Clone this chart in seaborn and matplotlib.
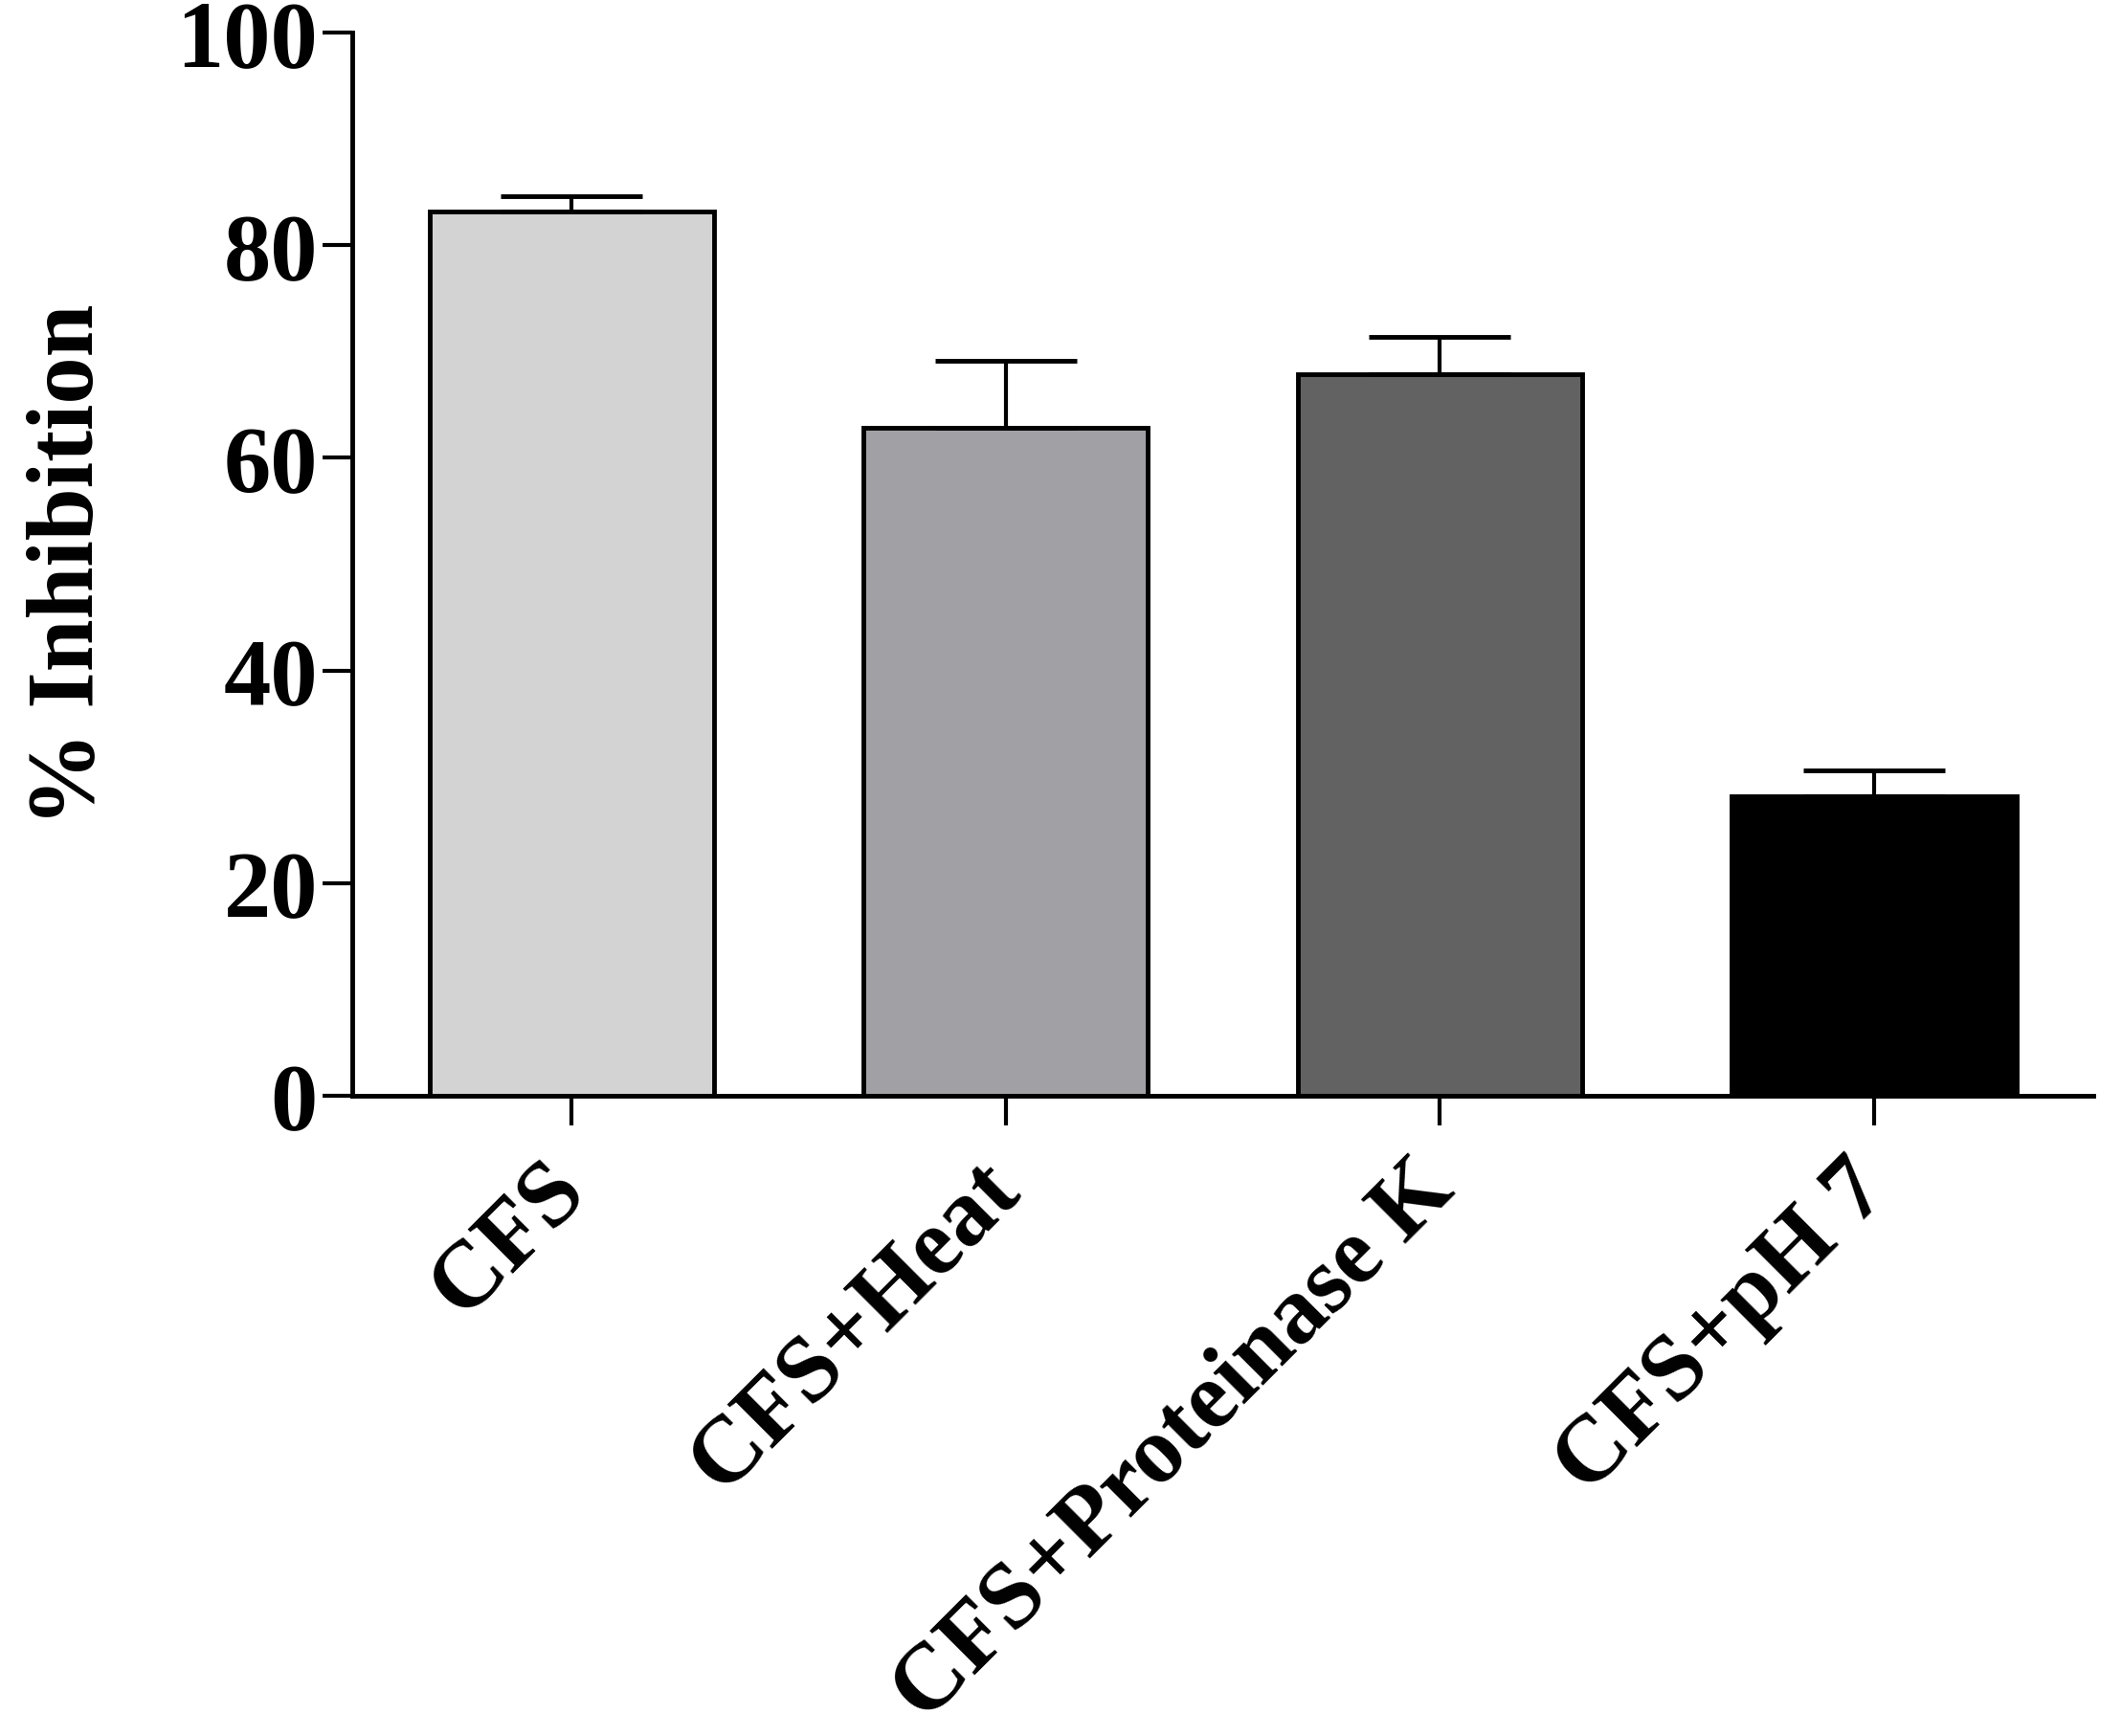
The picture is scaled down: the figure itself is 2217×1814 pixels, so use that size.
import matplotlib
matplotlib.use("Agg")
import matplotlib.pyplot as plt
from matplotlib import font_manager
import seaborn as sns
import pandas as pd
import numpy as np

categories = ["CFS", "CFS+Heat", "CFS+Proteinase K", "CFS+pH 7"]
inhibition = [83.2, 62.8, 67.9, 28.2]
error_up = [1.4, 6.3, 3.5, 2.4]
bar_colors = ["#d3d3d3", "#a1a1a5", "#626262", "#000000"]
y_ticks = [0, 20, 40, 60, 80, 100]

sns.set_style("ticks")
serif_names = [f.name for f in font_manager.fontManager.ttflist]
family = "Liberation Serif" if "Liberation Serif" in serif_names else "serif"
plt.rcParams["font.family"] = [family, "DejaVu Serif"]
plt.rcParams["font.serif"] = ["Liberation Serif", "Times New Roman", "DejaVu Serif"]
plt.rcParams["font.weight"] = "bold"
for key in ["text.color", "axes.labelcolor", "xtick.color", "ytick.color", "axes.edgecolor"]:
    plt.rcParams[key] = "black"

df = pd.DataFrame({"group": categories, "value": inhibition})

fig = plt.figure(figsize=(22.17, 18.15), dpi=100)
ax = fig.add_axes([0.166, 0.3686, 0.8205, 0.6121])

sns.barplot(data=df, x="group", y="value", hue="group", palette=bar_colors,
            order=categories, hue_order=categories, legend=False,
            width=0.655, edgecolor="black", linewidth=3.5, saturation=1,
            errorbar=None, ax=ax)

xpos = np.arange(len(categories))
ax.errorbar(xpos, inhibition, yerr=[np.zeros(len(error_up)), error_up],
            fmt="none", ecolor="black", elinewidth=3, capsize=53, capthick=3.5,
            zorder=1)

fp = font_manager.FontProperties(family=family, weight="bold", size=71)

ax.set_xlim(-0.505, 3.505)
ax.set_ylim(0, 100)
ax.set_yticks(y_ticks)
ax.set_yticklabels([str(t) for t in y_ticks], fontproperties=fp)
sns.despine(ax=ax)
for s in ["left", "bottom"]:
    ax.spines[s].set_linewidth(3.5)
    ax.spines[s].set_color("black")
ax.tick_params(axis="both", length=22, width=3, colors="black")
ax.tick_params(axis="y", pad=4)
ax.tick_params(axis="x", pad=38)
ax.set_xticks(xpos)
ax.set_xticklabels(categories, rotation=45, ha="right", va="center",
                   rotation_mode="anchor", fontproperties=fp)
ax.set_xlabel("")
ax.set_ylabel("% Inhibition", fontproperties=fp, labelpad=48)

fig.savefig("out.png", dpi=100, facecolor="white")
